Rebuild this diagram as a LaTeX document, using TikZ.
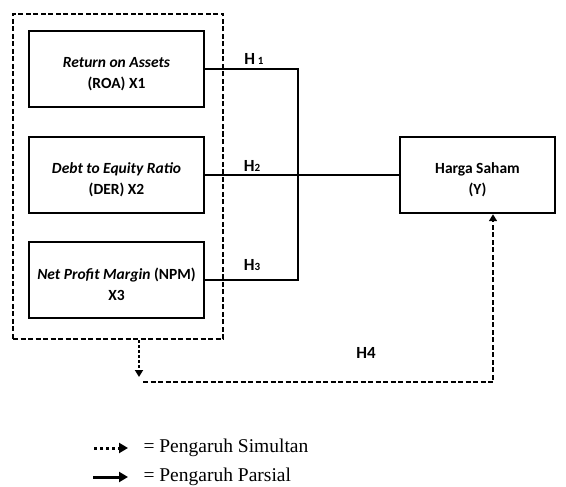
\documentclass[tikz,border=0pt]{standalone}
\usepackage{fontspec}
\setmainfont{Carlito}
\newfontfamily\legendfont{Liberation Serif}
\usetikzlibrary{arrows.meta}

\newcommand{\toppad}{\rule{0pt}{20pt}}

\tikzset{
	varbox/.style={draw, line width=2.4pt, minimum width=175pt, minimum height=76pt, align=center, font=\bfseries\fontsize{15.5}{21}\selectfont, inner sep=0pt},
	hlabel/.style={font=\bfseries\fontsize{17}{19}\selectfont},
	link/.style={line width=1.6pt},
	dashline/.style={line width=1.6pt, dash pattern=on 5pt off 2.5pt},
	legendtext/.style={anchor=west, font=\legendfont\fontsize{19.5}{21}\selectfont}
}

\begin{document}
\begin{tikzpicture}[x=1pt, y=-1pt]
		\useasboundingbox (0,0) rectangle (566,487);
		
		% independent variables
		\node[varbox] (x1) at (116.5, 69) {\toppad\textit{Return on Assets}\\(ROA) X1};
		\node[varbox] (x2) at (116.5, 175) {\toppad\textit{Debt to Equity Ratio}\\(DER) X2};
		\node[varbox] (x3) at (116.5, 280) {\toppad\textit{Net Profit Margin} (NPM)\\X3};
		
		% dependent variable
		\node[varbox, minimum width=155pt] (y) at (477.5, 175) {\toppad Harga Saham\\(Y)};
		
		% dashed group round X1..X3
		\node[draw, dashline, minimum width=210pt, minimum height=325pt] (group) at (118, 176.5) {};
		
		% partial links
		\coordinate (b1) at (298, 69);
		\coordinate (b3) at (298, 280);
		\draw[link] (x1.east) -- (b1) -- (b3) -- (x3.east);
		\draw[link] (x2.east) -- (y.west);
		
		\node[hlabel] (h1) at (254, 59) {H\,{\fontsize{11}{12}\selectfont 1}};
		\node[hlabel] (h2) at (252, 166) {H{\fontsize{11}{12}\selectfont 2}};
		\node[hlabel] (h3) at (252, 265) {H{\fontsize{11}{12}\selectfont 3}};
		
		% simultaneous link
		\coordinate (s1) at (139, 340);
		\coordinate (s2) at (139, 377);
		\coordinate (d1) at (143, 382);
		\coordinate (d2) at (493, 382);
		\draw[line width=2.4pt, dash pattern=on 2.5pt off 2.5pt, -{Triangle[length=7pt, width=8pt]}] (s1) -- (s2);
		\draw[dashline, -{Triangle[length=7pt, width=8pt]}] (d1) -- (d2) -- (d2 |- y.south);
		\node[hlabel] (h4) at (366, 353) {H4};
		
		% legend
		\coordinate (la1) at (94, 448);
		\coordinate (la2) at (128, 448);
		\coordinate (lb1) at (93, 477);
		\coordinate (lb2) at (128, 477);
		\draw[line width=3pt, dash pattern=on 3pt off 3pt, -{Triangle[length=9pt, width=10pt]}] (la1) -- (la2);
		\draw[line width=3pt, -{Triangle[length=9pt, width=10pt]}] (lb1) -- (lb2);
		\node[legendtext] (simultan) at (140, 448) {= Pengaruh Simultan};
		\node[legendtext] (parsial) at (140, 477) {= Pengaruh Parsial};
		
	\end{tikzpicture}
\end{document}
